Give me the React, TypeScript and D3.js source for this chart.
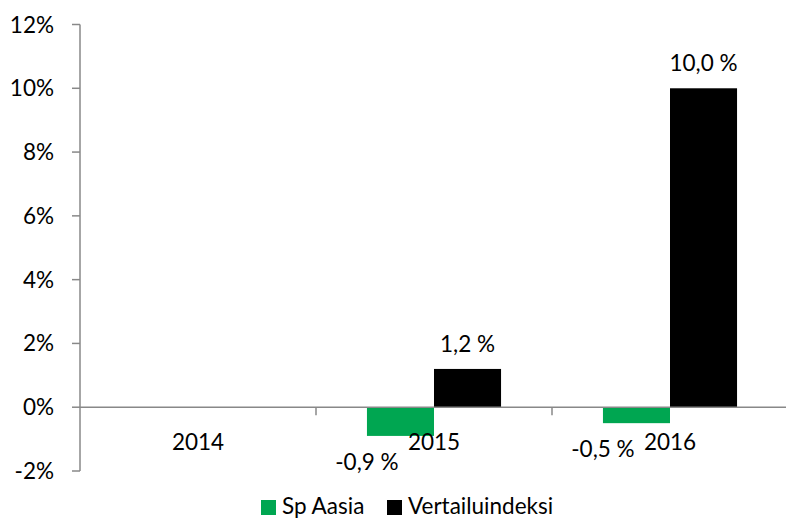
import React from "react";
import * as d3 from "d3";

const categories = ["2014", "2015", "2016"];
const spAasia: (number | null)[] = [null, -0.9, -0.5];
const vertailu: (number | null)[] = [null, 1.2, 10.0];
const seriesNames = ["Sp Aasia", "Vertailuindeksi"];
const seriesColors = ["#00A651", "#000000"];
const yTicks = [-2, 0, 2, 4, 6, 8, 10, 12];

const W = 786;
const H = 519;
const FONT = "Lato, 'Open Sans', sans-serif";
const FS = 22.5;

export default function App() {
  const x = d3.scaleBand<string>().domain(categories).range([80, 788]);
  const y = d3.scaleLinear().domain([-2, 12]).range([471, 24.5]);
  const inner = d3
    .scaleBand<string>()
    .domain(seriesNames)
    .range([0, x.bandwidth()])
    .paddingInner(0)
    .paddingOuter(0.76);
  const series = [spAasia, vertailu];
  const fmt = (v: number) => v.toFixed(1).replace(".", ",") + " %";

  return (
    <svg width={W} height={H} style={{ position: "absolute", left: 0, top: 0 }}>
      <rect width={W} height={H} fill="#fff" />
      {/* y axis */}
      <line x1={80} x2={80} y1={y(12)} y2={y(-2)} stroke="#888" strokeWidth={1.5} />
      {yTicks.map((t) => (
        <g key={t}>
          <line x1={72} x2={80} y1={y(t)} y2={y(t)} stroke="#888" strokeWidth={1.5} />
          <text x={54} y={y(t) + 8} textAnchor="end" fontFamily={FONT} fontSize={FS} fill="#000">
            {t}%
          </text>
        </g>
      ))}
      {/* bars */}
      {series.map((s, si) =>
        s.map((v, ci) => {
          if (v === null) return null;
          const bx = (x(categories[ci]) as number) + (inner(seriesNames[si]) as number);
          const bw = inner.bandwidth();
          return (
            <rect
              key={si + "-" + ci}
              x={bx}
              width={bw}
              y={Math.min(y(v), y(0))}
              height={Math.abs(y(v) - y(0))}
              fill={seriesColors[si]}
            />
          );
        })
      )}
      {/* zero line */}
      <line x1={80} x2={W} y1={y(0)} y2={y(0)} stroke="#888" strokeWidth={1.5} />
      {categories.slice(1).map((c) => (
        <line
          key={c}
          x1={x(c) as number}
          x2={x(c) as number}
          y1={y(0)}
          y2={y(0) + 8}
          stroke="#888"
          strokeWidth={1.5}
        />
      ))}
      {/* category labels */}
      {categories.map((c) => (
        <text
          key={c}
          x={(x(c) as number) + x.bandwidth() / 2}
          y={450}
          textAnchor="middle"
          fontFamily={FONT}
          fontSize={FS}
          fill="#000"
        >
          {c}
        </text>
      ))}
      {/* data labels */}
      {series.map((s, si) =>
        s.map((v, ci) => {
          if (v === null) return null;
          const bx = (x(categories[ci]) as number) + (inner(seriesNames[si]) as number);
          const bw = inner.bandwidth();
          const lx = v < 0 ? bx : bx + bw / 2;
          const ly = v < 0 ? y(v) + 34 : y(v) - 17;
          return (
            <text
              key={"l" + si + "-" + ci}
              x={lx}
              y={ly}
              textAnchor="middle"
              fontFamily={FONT}
              fontSize={FS}
              fill="#000"
            >
              {fmt(v)}
            </text>
          );
        })
      )}
      {/* legend */}
      <rect x={261} y={500} width={15} height={15} fill={seriesColors[0]} />
      <text x={282} y={514} fontFamily={FONT} fontSize={FS} fill="#000">
        {seriesNames[0]}
      </text>
      <rect x={387} y={500} width={15} height={15} fill={seriesColors[1]} />
      <text x={408} y={514} fontFamily={FONT} fontSize={FS} fill="#000">
        {seriesNames[1]}
      </text>
    </svg>
  );
}
